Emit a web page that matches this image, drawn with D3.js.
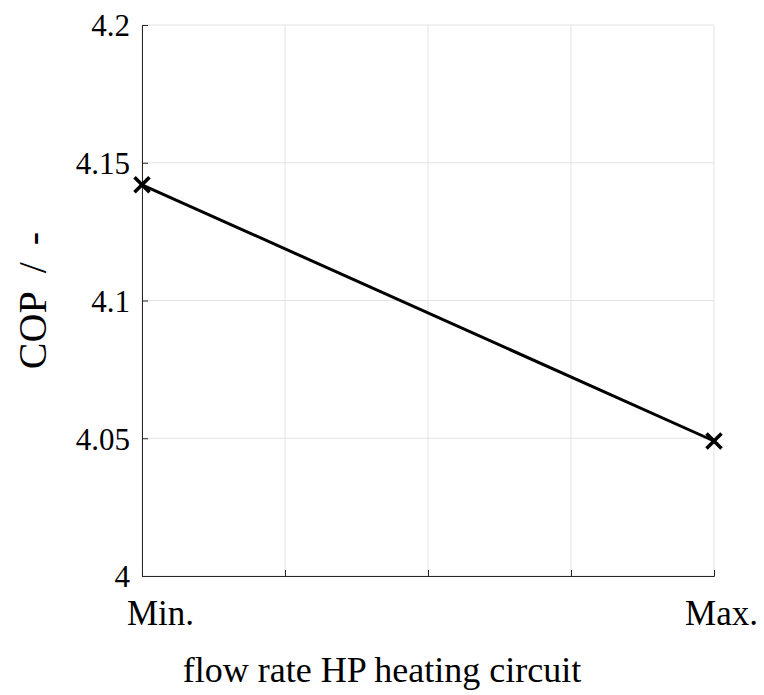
<!DOCTYPE html>
<html>
<head>
<meta charset="utf-8">
<script src="https://cdn.jsdelivr.net/npm/d3@7"></script>
<style>
  body { margin: 0; background: #fff; }
  text { font-family: "Liberation Serif", "DejaVu Serif", serif; fill: #000; }
</style>
</head>
<body>
<div id="chart"></div>
<script>
var svgWidth = 764;
var svgHeight = 695;

var margin = { top: 25, right: 50, bottom: 119, left: 142 };
var width = svgWidth - margin.left - margin.right;
var height = svgHeight - margin.top - margin.bottom;

// data
var categories = ["Min.", "", "", "", "Max."];
var pointIdx = [0, 4];
var copValues = [4.142, 4.049];
var yTicks = [4, 4.05, 4.1, 4.15, 4.2];
var yTickLabels = ["4", "4.05", "4.1", "4.15", "4.2"];

var svg = d3.select("#chart")
  .append("svg")
  .attr("width", svgWidth)
  .attr("height", svgHeight);

var chartGroup = svg.append("g")
  .attr("transform", `translate(${margin.left}, ${margin.top})`);

var xScale = d3.scalePoint()
  .domain(d3.range(categories.length))
  .range([0, width]);

var yScale = d3.scaleLinear()
  .domain([4, 4.2])
  .range([height, 0]);

// grid
chartGroup.append("g")
  .selectAll("line")
  .data(yTicks)
  .enter()
  .append("line")
  .attr("x1", 0)
  .attr("x2", width)
  .attr("y1", d => yScale(d))
  .attr("y2", d => yScale(d))
  .attr("stroke", "#e3e3e3")
  .attr("stroke-width", 1);

chartGroup.append("g")
  .selectAll("line")
  .data(d3.range(categories.length))
  .enter()
  .append("line")
  .attr("x1", d => xScale(d))
  .attr("x2", d => xScale(d))
  .attr("y1", 0)
  .attr("y2", height)
  .attr("stroke", "#e3e3e3")
  .attr("stroke-width", 1);

// axes (ticks point inward)
var bottomAxis = d3.axisBottom(xScale)
  .tickSize(-6)
  .tickPadding(24)
  .tickFormat(i => categories[i]);

var leftAxis = d3.axisLeft(yScale)
  .tickValues(yTicks)
  .tickSize(-6)
  .tickPadding(12)
  .tickFormat((d, i) => yTickLabels[i]);

var xAxisG = chartGroup.append("g")
  .attr("transform", `translate(0, ${height})`)
  .call(bottomAxis);

var yAxisG = chartGroup.append("g")
  .call(leftAxis);

[xAxisG, yAxisG].forEach(function(g) {
  g.select(".domain").attr("stroke", "#262626").attr("stroke-width", 1);
  g.selectAll(".tick line").attr("stroke", "#262626");
  g.selectAll(".tick text")
    .attr("fill", "#000")
    .style("font-family", "\"Liberation Serif\", serif");
});
xAxisG.selectAll(".tick text")
  .style("font-size", "35px")
  .attr("dy", "0.71em")
  .attr("dx", i => i === 0 ? 18 : 7);
yAxisG.selectAll(".tick text").style("font-size", "31px").attr("dy", "0.35em");

// line
var pts = pointIdx.map(function(c, i) {
  return { x: c, y: copValues[i] };
});

var line = d3.line()
  .x(d => xScale(d.x))
  .y(d => yScale(d.y));

chartGroup.append("path")
  .datum(pts)
  .attr("d", line)
  .attr("fill", "none")
  .attr("stroke", "#000")
  .attr("stroke-width", 3);

// cross markers
var s = 7.5;
var marks = chartGroup.selectAll(".mark")
  .data(pts)
  .enter()
  .append("g")
  .attr("class", "mark")
  .attr("transform", d => `translate(${xScale(d.x)}, ${yScale(d.y)})`);
marks.append("line").attr("x1", -s).attr("y1", -s).attr("x2", s).attr("y2", s)
  .attr("stroke", "#000").attr("stroke-width", 3.5);
marks.append("line").attr("x1", -s).attr("y1", s).attr("x2", s).attr("y2", -s)
  .attr("stroke", "#000").attr("stroke-width", 3.5);

// axis labels
chartGroup.append("text")
  .attr("transform", `translate(${width / 2 - 46}, ${height + 106})`)
  .attr("text-anchor", "middle")
  .style("font-size", "36px")
  .text("flow rate HP heating circuit");

var yLabel = chartGroup.append("text")
  .attr("transform", `translate(${-margin.left + 46}, ${height / 2}) rotate(-90)`)
  .attr("text-anchor", "middle")
  .style("font-size", "40px");
yLabel.append("tspan").text("COP");
yLabel.append("tspan").attr("dx", 18).text("/");
yLabel.append("tspan").attr("dx", 17).text("-");
</script>
</body>
</html>
